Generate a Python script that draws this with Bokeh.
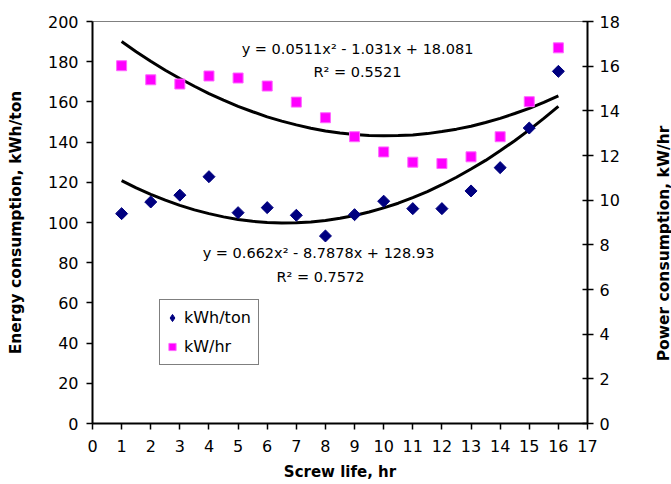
import math
from bokeh.plotting import figure
from bokeh.layouts import row
from bokeh.models import Range1d, LinearAxis, FixedTicker, Label, Legend, LegendItem
from bokeh.embed import file_html
from bokeh.resources import INLINE

# ---- data ----
screw_life = [1, 2, 3, 4, 5, 6, 7, 8, 9, 10, 11, 12, 13, 14, 15, 16]
kwh_per_ton = [104.4, 110.2, 113.6, 122.8, 104.9, 107.4, 103.6, 93.3,
               103.9, 110.6, 106.9, 106.9, 115.7, 127.3, 147.0, 175.2]
kw_per_hr = [16.02, 15.39, 15.20, 15.56, 15.47, 15.11, 14.39, 13.69,
             12.84, 12.16, 11.70, 11.64, 11.94, 12.84, 14.41, 16.82]

# trend lines as drawn (read at half-hour steps)
trend_x = [1, 1.5, 2, 2.5, 3, 3.5, 4, 4.5, 5, 5.5, 6, 6.5, 7, 7.5, 8, 8.5,
           9, 9.5, 10, 10.5, 11, 11.5, 12, 12.5, 13, 13.5, 14, 14.5, 15, 15.5, 16]
trend_kwh = [120.8, 117.2, 114.0, 111.1, 108.5, 106.3, 104.4, 102.8, 101.5, 100.6,
             100.0, 99.8, 99.9, 100.3, 101.0, 102.1, 103.5, 105.2, 107.3, 109.6,
             112.4, 115.4, 118.8, 122.5, 126.6, 130.9, 135.7, 140.7, 146.1, 151.8, 157.8]
trend_kw = [17.10, 16.65, 16.22, 15.82, 15.45, 15.10, 14.77, 14.48, 14.20, 13.96,
            13.73, 13.54, 13.37, 13.22, 13.10, 13.01, 12.94, 12.90, 12.88, 12.89,
            12.92, 12.98, 13.07, 13.18, 13.31, 13.48, 13.66, 13.88, 14.11, 14.38, 14.67]

x_ticks = list(range(0, 18))
left_ticks = list(range(0, 201, 20))
right_ticks = list(range(0, 19, 2))

FONT = "DejaVu Sans"
MAIN_W = 650
SIDE_W = 671 - MAIN_W

p = figure(width=MAIN_W, height=484, output_backend="svg", toolbar_location=None,
           x_range=Range1d(0, 17), y_range=Range1d(0, 200),
           min_border_left=92, min_border_right=MAIN_W - 587,
           min_border_top=21, min_border_bottom=61)
p.extra_y_ranges = {"right": Range1d(0, 18)}
p.grid.visible = False
p.outline_line_color = "#808080"
p.outline_line_width = 1
p.background_fill_color = "white"
p.border_fill_color = "white"

# axes
xa = p.xaxis[0]
xa.ticker = FixedTicker(ticks=x_ticks)
xa.axis_label = "Screw life, hr"
ya = p.yaxis[0]
ya.ticker = FixedTicker(ticks=left_ticks)
ya.axis_label = "Energy consumption, kWh/ton"
ra = LinearAxis(y_range_name="right", ticker=FixedTicker(ticks=right_ticks))
p.add_layout(ra, "right")

for ax in [xa, ya, ra]:
    ax.axis_line_color = "black"
    ax.axis_line_width = 2
    ax.major_tick_line_color = "black"
    ax.major_tick_line_width = 1.5
    ax.major_tick_out = 6
    ax.major_tick_in = 0
    ax.minor_tick_line_color = None
    ax.major_label_text_font = FONT
    ax.major_label_text_font_size = "16px"
    ax.major_label_text_color = "black"
    ax.axis_label_text_font = FONT
    ax.axis_label_text_font_size = "15px"
    ax.axis_label_text_font_style = "bold"
    ax.axis_label_text_color = "black"
ya.axis_label_text_font_size = "15.5px"
ra.major_tick_in = 5
ya.major_label_standoff = 8
ra.major_label_standoff = 6
xa.major_label_standoff = 10
xa.axis_label_standoff = 8
ya.axis_label_standoff = 20

H = 484 - 61   # frame bottom (canvas px from top)
L = 92         # frame left

def sx(px):
    return px - L

def sy(py):
    return H - py

# trend lines
p.line(trend_x, trend_kwh, line_color="black", line_width=3)
p.line(trend_x, trend_kw, line_color="black", line_width=3, y_range_name="right")

# markers (diamond renderer below gives the legend symbol; rotated squares on top)
r1 = p.scatter(screw_life, kwh_per_ton, marker="diamond", size=9,
               fill_color="#000080", line_color="#000080")
p.scatter(screw_life, kwh_per_ton, marker="square", size=8.5, angle=math.pi / 4,
          fill_color="#000080", line_color="#000080")
r2 = p.scatter(screw_life, kw_per_hr, marker="square", size=10,
               fill_color="#FF00FF", line_color="#FF66FF", line_width=1,
               y_range_name="right")

# equations
def lab(px, py, t):
    p.add_layout(Label(x=sx(px), y=sy(py), x_units="screen", y_units="screen", text=t,
                       text_align="center", text_baseline="middle",
                       text_font=FONT, text_font_size="14.5px", text_color="black"))

lab(357, 48, "y = 0.0511x² - 1.031x + 18.081")
lab(357, 71, "R² = 0.5521")
lab(318, 252, "y = 0.662x² - 8.7878x + 128.93")
lab(320, 276, "R² = 0.7572")

legend = Legend(items=[LegendItem(label="kWh/ton", renderers=[r1]),
                       LegendItem(label="kW/hr", renderers=[r2])],
                location=(67, 58), border_line_color="black", border_line_width=1.5,
                label_text_font=FONT, label_text_font_size="16px",
                label_text_color="black", label_text_baseline="middle",
                glyph_width=18, glyph_height=29, label_standoff=3, label_width=71,
                padding=3, spacing=0, margin=0, background_fill_alpha=1)
p.add_layout(legend, "center")

# narrow strip holding the right-hand axis title (reads bottom to top);
# its frame is aligned with the main plot's frame (bottom at canvas y = 423)
side = figure(width=SIDE_W, height=484, output_backend="svg", toolbar_location=None,
              x_axis_location=None, y_axis_location=None, min_border=0,
              x_range=Range1d(0, 1), y_range=Range1d(0, 1))
side.grid.visible = False
side.outline_line_color = None
side.background_fill_color = "white"
side.border_fill_color = "white"
side.add_layout(Label(x=663 - MAIN_W, y=H - 243, x_units="screen", y_units="screen",
                      text="Power consumption, kW/hr", angle=math.pi / 2,
                      text_align="center", text_baseline="middle",
                      text_font=FONT, text_font_size="15.5px", text_font_style="bold",
                      text_color="black"))

layout = row(p, side, spacing=0)
open("out.html", "w").write(file_html(layout, INLINE))
